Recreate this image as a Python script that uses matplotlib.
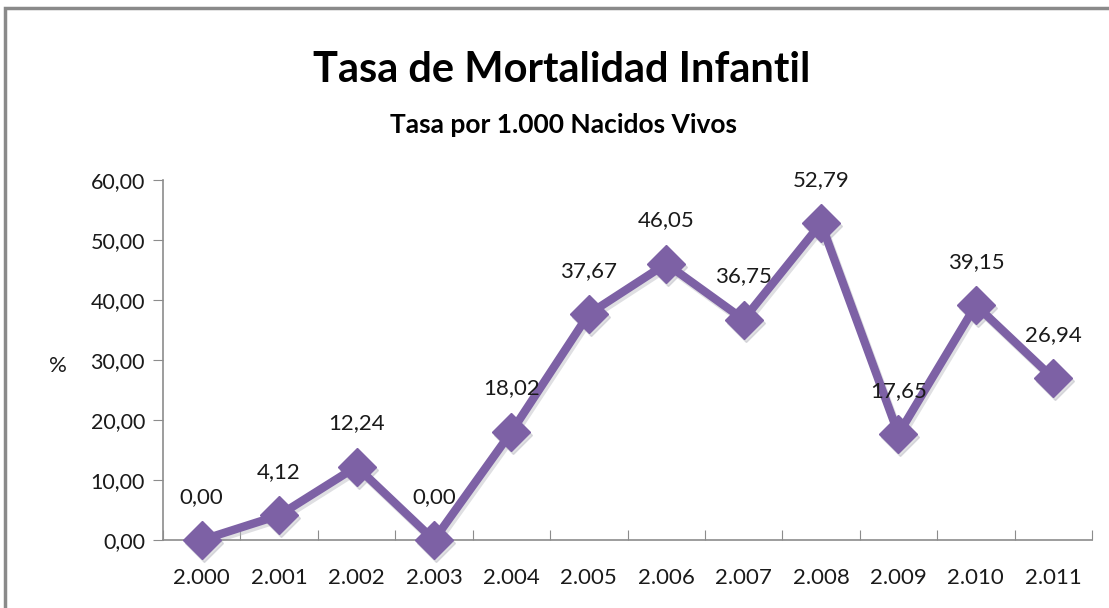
import matplotlib
matplotlib.use("Agg")
import matplotlib.pyplot as plt
from matplotlib.patches import Rectangle
from matplotlib.transforms import ScaledTranslation

years = ["2.000", "2.001", "2.002", "2.003", "2.004", "2.005",
         "2.006", "2.007", "2.008", "2.009", "2.010", "2.011"]
rates = [0.00, 4.12, 12.24, 0.00, 18.02, 37.67, 46.05, 36.75, 52.79, 17.65, 39.15, 26.94]
yticks = [0, 10, 20, 30, 40, 50, 60]

plt.rcParams['font.family'] = ['Lato', 'DejaVu Sans']

W, H = 1109, 608
fig = plt.figure(figsize=(W / 100, H / 100), dpi=100)
ax = fig.add_axes([163 / W, 1 - 540 / H, (1092 - 163) / W, (540 - 180) / H])

color = "#7D61A5"
xs = [i + 0.5 for i in range(len(years))]
shadow_tr = ax.transData + ScaledTranslation(2 / 100, -3 / 100, fig.dpi_scale_trans)
ax.plot(xs, rates, color="#b8b8c0", lw=6, marker="D", ms=19, mfc="#b8b8c0", mec="#b8b8c0",
        alpha=0.45, clip_on=False, zorder=2, transform=shadow_tr)
ax.plot(xs, rates, color=color, lw=6, marker="D", ms=19, mfc=color, mec=color,
        clip_on=False, zorder=3)

for x, v in zip(xs, rates):
    ax.annotate(f"{v:.2f}".replace(".", ","), (x, v), xytext=(0, 24),
                textcoords="offset points", ha="center", va="bottom",
                fontsize=16, color="#1a1a1a", zorder=4)

ax.set_xlim(0, len(years))
ax.set_ylim(0, 60)
ax.set_yticks(yticks)
ax.set_yticklabels([f"{t:.2f}".replace(".", ",") for t in yticks], fontsize=15.5, color="#1a1a1a")
ax.set_xticks(range(len(years) + 1))
ax.set_xticklabels([""] * (len(years) + 1))
ax.set_xticks(xs, minor=True)
ax.set_xticklabels(years, minor=True, fontsize=16, color="#1a1a1a")
ax.tick_params(axis="x", which="minor", length=0, pad=20)
ax.tick_params(axis="x", which="major", length=7, direction="in", color="#8c8c8c")
ax.tick_params(axis="y", length=7, direction="out", color="#8c8c8c", pad=6)

for s in ["top", "right"]:
    ax.spines[s].set_visible(False)
for s in ["left", "bottom"]:
    ax.spines[s].set_color("#8c8c8c")
    ax.spines[s].set_linewidth(1.2)

fig.text(58 / W, 1 - 366 / H, "%", fontsize=16, ha="center", va="center", color="#1a1a1a")
fig.text(562 / W, 1 - 70 / H, "Tasa de Mortalidad Infantil", fontsize=30, fontweight="bold",
         ha="center", va="center", color="black")
fig.text(563 / W, 1 - 125 / H, "Tasa por 1.000 Nacidos Vivos", fontsize=19, fontweight="bold",
         ha="center", va="center", color="black")

fig.patches.append(Rectangle((5 / W, -0.05), 1.2, 1 - 8 / H + 0.05, transform=fig.transFigure,
                             fill=False, edgecolor="#8a8a8a", lw=2.5))

fig.savefig("out.png", dpi=100)
